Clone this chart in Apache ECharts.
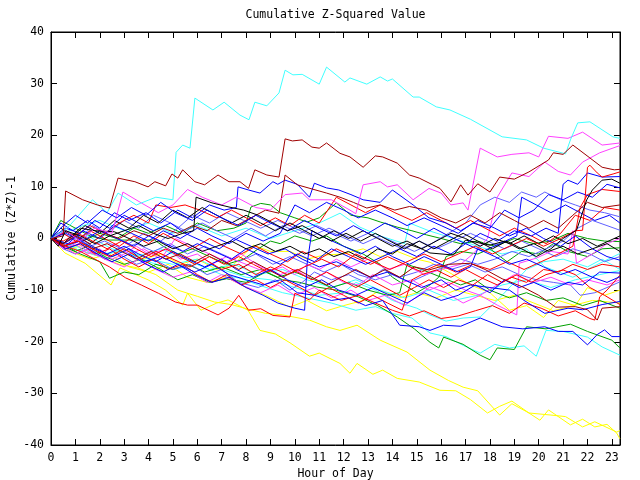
<!DOCTYPE html>
<html>
<head>
<meta charset="utf-8">
<script src="https://cdn.jsdelivr.net/npm/echarts@6/dist/echarts.min.js"></script>
<style>
html,body{margin:0;padding:0;background:#fff;}
#chart{width:640px;height:480px;}
</style>
</head>
<body>
<div id="chart"></div>
<script>
// ---- data: [hour, cumulative value] ----
const xTicks = [0,1,2,3,4,5,6,7,8,9,10,11,12,13,14,15,16,17,18,19,20,21,22,23];
const yTicks = [-40,-30,-20,-10,0,10,20,30,40];

const cyan1 = [[0,0],[0.67,2],[1.7,7.5],[2.3,5],[2.75,8.8],[3.5,6.5],[4.3,8],[5.0,7.5],[5.13,16.7],[5.4,18.1],[5.7,17.5],[5.9,27.2],[6.64,24.9],[7.1,26.4],[7.75,23.9],[8.12,23.0],[8.36,26.4],[8.85,25.7],[9.35,28.2],[9.6,32.6],[9.92,31.7],[10.3,31.8],[11.0,29.9],[11.3,33.2],[12.05,30.3],[12.26,31.1],[12.95,29.9],[13.5,31.3],[13.8,30.5],[14.0,30.9],[14.85,27.4],[15.1,27.4],[15.8,25.5],[16.36,24.9],[17.2,23.1],[18.5,19.7],[19.5,19.1],[20.2,17.5],[21.1,16.4],[21.3,19.1],[21.6,22.4],[22.1,22.6],[23.04,19.7],[23.33,19.4]];
const cyan2 = [[0,0],[1,-1.5],[2,-3],[3,-2.5],[4,-4.5],[5,-6],[6,-5],[7,-7],[7.75,-7.7],[8.5,-9],[9.5,-10.5],[10.5,-11.5],[11.5,-12.5],[12.5,-13.9],[13.3,-13.2],[14,-14.5],[14.8,-15.4],[15.54,-18.3],[16.2,-19],[16.9,-20.7],[17.6,-22.2],[18.2,-20.5],[18.8,-21.2],[19.4,-20.8],[19.9,-22.8],[20.3,-17.8],[21,-18],[22,-19.1],[22.6,-21],[23.33,-22.6]];
const cyan3 = [[0,0],[1,-2],[2,-3.5],[3,-2],[4,-4],[5,-5],[6,-4],[7,-6],[8,-7.5],[9,-8],[10,-9.5],[11,-11],[12,-10.5],[12.5,-8.5],[13.3,-10],[14,-12],[15,-13.5],[15.54,-14.8],[16.2,-16],[16.9,-15.4],[17.6,-15.2],[18.4,-11.5],[19.5,-6],[20.2,-4.5],[21,-4],[22,-5.5],[22.6,-4],[23.33,-6]];
const cyan4 = [[0,0],[1,2],[2,3.5],[3,1.5],[4,3],[5,1],[6,2.5],[7,0.5],[8,2],[9,0],[10,1.5],[11,3],[11.85,4.9],[12.67,2.2],[13.5,0.5],[14.5,-1],[14.7,3],[15.5,1.5],[16.5,0],[17.5,-1.5],[18.5,-3],[19.5,-2],[20.25,-5.5],[21.4,-7.5],[22.2,-5.5],[23.33,-2.9]];
const cyan5 = [[0,0],[0.7,-1.5],[1.5,0.5],[2.5,-2],[3.5,-3.5],[4.5,-2],[5.5,-4],[6.5,-6],[7.5,-5],[8.5,-7],[9.5,-6],[10.5,-8],[11.5,-9.5],[12.5,-8],[13.5,-10],[14.5,-11.5],[15.5,-10],[16.5,-12],[17.5,-11],[18.5,-9],[19.5,-8],[20.5,-9.5],[21.5,-8],[22.5,-7],[23.33,-6.2]];

const mag1 = [[0,0],[0.6,1.5],[1.2,-0.5],[1.8,2],[2.5,1],[2.95,9],[3.7,6.9],[4.4,5],[5,6.5],[5.6,9.5],[6.2,8],[7,6.5],[7.6,8],[8.4,6],[9,5.5],[9.6,8.5],[10.3,8.8],[10.6,7.5],[11.5,7.5],[12.26,5.5],[12.5,4.8],[12.8,10.4],[13.5,11],[13.8,10],[14.2,10.4],[14.85,7.5],[15.5,9.7],[16,8.8],[16.4,6.5],[16.9,6.9],[17.1,5.5],[17.6,17.5],[18.3,15.8],[18.9,16.3],[19.6,16.6],[20,15.8],[20.4,19.8],[21.2,19.4],[21.8,20.6],[22.6,18.1],[23.33,18.5]];
const mag2 = [[0,0],[0.5,-2],[1,-1],[1.5,-3],[2,-2],[2.5,-4],[3,-3],[3.5,-1.5],[4,-3],[4.8,-2],[5.3,-4],[6,-3],[6.6,-5],[7.2,-3.5],[8,-5],[8.8,-6.5],[9.5,-5.5],[10,-7],[10.5,-5],[11,-6],[11.7,-4],[12.3,-5.5],[13,-4],[13.8,-6],[14.5,-5],[15.3,-7],[16,-6],[16.8,-5],[17.3,-3],[17.9,0],[18.3,8],[18.9,12.7],[19.6,12],[20.25,14.8],[20.8,13],[21.3,12.3],[21.8,14.8],[22.5,16.6],[23.33,18]];
const mag3 = [[0,0],[0.5,-1.5],[1,-3],[1.6,-2],[2.2,-4],[3,-5.5],[3.6,-4],[4.3,-6],[5,-7.5],[5.7,-6.5],[6.4,-8.5],[7,-7],[7.8,-9],[8.6,-10.5],[9.3,-9],[10,-11],[10.8,-9.5],[11.5,-11.5],[12.3,-10],[13,-12],[13.7,-11],[14.5,-13],[15.54,-9.4],[16.2,-10.5],[16.9,-12.5],[17.6,-11],[18.3,-12.9],[19.1,-14.8],[19.2,-4.8],[19.9,-3.8],[20.5,-2.5],[21.2,-3],[21.4,1.5],[21.55,-4.8],[22.2,-3],[22.8,-1],[23.33,0]];
const mag4 = [[0,0],[0.4,-1.5],[1,-0.5],[1.5,-2.5],[2,-3.5],[2.6,-1],[3.2,-3],[3.8,-2],[4.5,-4],[5.1,0],[5.8,-1.5],[6.5,-3],[7.2,-4.5],[7.8,-3],[8.6,-5.5],[9.4,-7],[10,-6],[10.7,-8],[11.3,-6.5],[12,-8.5],[12.6,-9],[13.2,-7],[14,-9],[14.8,-8],[15.5,-10],[16.3,-8.5],[17,-10],[17.6,-11],[18.3,-9],[19,-7],[19.8,-8.5],[20.5,-7.5],[21.3,-9],[22,-8],[22.8,-9],[23.33,-8]];

const yel1 = [[0,0],[0.57,-2.8],[1.4,-4.8],[2.46,-9],[2.83,-5.7],[3.98,-8],[4.7,-10],[5.4,-12.9],[5.6,-10.6],[6.15,-13.9],[6.8,-12.5],[7.26,-11.9],[8.08,-13.9],[8.57,-17.8],[9.2,-18.5],[9.8,-20.2],[10.6,-22.8],[11.0,-22.2],[11.85,-24.2],[12.26,-26.1],[12.55,-24.2],[13.2,-26.3],[13.6,-25.5],[14.2,-27.1],[15.1,-27.8],[15.95,-29.4],[16.6,-29.5],[17.2,-31.2],[17.9,-33.8],[18.4,-32.5],[18.9,-31.5],[19.6,-33.8],[20.05,-35.2],[20.4,-33.2],[21.3,-36.1],[21.8,-35],[22.3,-36.5],[22.8,-36],[23.2,-37.7],[23.33,-38.8]];
const yel2 = [[0,0],[1,-2],[2,-3.5],[2.8,-5],[3.56,-5.7],[4.3,-7],[5.2,-10],[6,-11.2],[6.7,-12.3],[7.4,-12.8],[8.1,-13.7],[8.8,-14.5],[9.5,-14.8],[10.6,-15.8],[11.3,-17.1],[11.85,-17.8],[12.55,-16.8],[13.5,-19.7],[14.6,-22],[15.54,-25.5],[16.3,-27.5],[16.9,-28.8],[17.5,-29.5],[18.4,-34.2],[18.9,-32],[19.6,-33.8],[20.5,-34.2],[21.1,-34.5],[21.8,-36.5],[22.3,-35.5],[23.2,-37.5],[23.33,-37.2]];
const yel3 = [[0,0],[0.8,-2],[1.5,-1],[2.3,-3],[3,-2],[3.8,-4],[4.5,-3],[5.3,-5],[6,-4],[6.8,-6],[7.5,-5],[8.3,-1.3],[9,-2.5],[9.8,-2.5],[10.5,-4],[11.2,-3.2],[12,-3],[12.8,-2],[13.5,-3.5],[14.2,-2.5],[15,-4],[15.54,-4.6],[16.3,-6.5],[17.2,-9],[18,-10.5],[18.8,-13.9],[19.5,-13],[20.2,-15.3],[20.8,-12],[21.5,-13],[22,-9.5],[22.7,-11],[23.33,-10]];
const yel4 = [[0,0],[0.8,-2.5],[1.6,-4],[2.4,-3],[3.2,-5.5],[4,-6.5],[4.8,-5],[5.6,-7.5],[6.4,-8.5],[7.2,-7.5],[8,-9.5],[8.8,-11],[9.8,-13.3],[10.5,-12],[11.3,-14],[12,-13],[12.8,-12],[13.5,-10],[14.3,-11.5],[15,-10.5],[15.8,-11.5],[16.6,-10],[17.4,-11],[18.2,-12],[19,-11],[19.8,-12.5],[20.6,-14],[21.4,-13],[22.2,-12],[23.33,-12.5]];

const grn1 = [[0,0],[0.5,-1],[1,-2.5],[1.5,-1.5],[2.2,-3.5],[3,-5],[3.7,-4],[4.5,-6],[5.2,-8],[5.8,-7],[6.5,-8.5],[7.2,-7.8],[8,-8.5],[8.8,-6.5],[9.5,-8],[10.2,-8.5],[10.9,-9.4],[11.7,-10],[12.6,-11.3],[13.4,-13],[14.2,-15.2],[14.9,-17.5],[15.54,-20.1],[15.9,-21.2],[16.1,-19.1],[16.9,-20.5],[17.6,-22.6],[18,-23.5],[18.3,-21.2],[19,-21.5],[19.5,-17.1],[20.3,-17.5],[21.3,-16.6],[22,-18],[23,-19.7],[23.33,-21.2]];
const grn2 = [[0,0],[0.4,3.5],[1,2],[1.6,0.5],[2.3,-0.3],[3,-0.3],[4.25,-0.3],[4.6,-1.5],[5.2,-3],[5.8,-2],[6.5,-3.5],[7.2,-5],[7.9,-4],[8.5,-2],[9,-0.5],[9.4,-1],[10,0.5],[10.7,-0.5],[11.3,0.5],[12,-1.5],[12.8,-3],[13.5,-5],[14,-7.5],[14.5,-9],[15,-10.5],[15.54,-9],[15.9,-7.5],[16.2,-3.5],[16.8,-2.5],[17.5,-3],[18,-2],[18.7,-4.5],[19.3,-2.5],[20,-3],[20.6,-1],[21.2,-2.5],[22,-3.5],[22.6,-2],[23.33,-1.8]];
const grn3 = [[0,0],[0.6,1.5],[1.3,-0.5],[2,1],[2.7,0],[3.4,2],[4,1],[4.7,2.5],[5.4,1],[6,3],[6.8,1.5],[7.5,2],[8,3],[8.2,6.1],[8.6,6.8],[9,6.5],[9.4,5],[10,4],[10.5,3.2],[11,4],[11.7,6.9],[12.3,4.5],[13,4],[13.5,3.2],[14.2,2.2],[14.8,1.5],[15.4,0.7],[16,0],[16.8,-1],[17.5,-0.5],[18.2,-1.5],[19,0],[19.8,-1],[20.5,-0.5],[21.2,1],[22,0],[22.7,-0.5],[23.33,-0.6]];
const grn4 = [[0,0],[0.5,-1.5],[1.2,-3],[2,-4.5],[2.4,-7.7],[3,-6.5],[3.6,-7],[4.3,-5],[5,-6],[5.6,-5],[6.3,-6.5],[7,-5.5],[7.8,-7],[8.6,-6],[9.3,-7.5],[10,-6.5],[10.8,-8],[11.5,-9.5],[12.2,-8.5],[13,-10],[13.8,-11],[14.3,-10.5],[14.6,-5],[15.2,-6],[16,-7.5],[16.8,-9],[17.4,-8],[18,-10],[18.8,-11.5],[19.5,-10.5],[20.3,-12],[21,-11.5],[21.8,-13],[22.5,-12],[23.33,-13.5]];

const blu1 = [[0,0],[0.5,-1.5],[1.2,-0.5],[1.8,-2],[2.5,-3.5],[3.2,-2],[3.8,-4.5],[4.5,-3.5],[5.2,-5],[5.9,-6.5],[6.6,-5],[7.3,-7],[8,-8],[8.7,-9],[9.4,-8],[10.1,-10.5],[10.8,-11],[11.5,-12],[12.2,-11.5],[12.9,-13],[13.6,-12],[14.3,-16.8],[15.1,-17.1],[15.54,-17.8],[16.1,-16.8],[16.8,-17],[17.6,-15.4],[18.5,-17.1],[19.35,-17.5],[20.25,-17.1],[20.8,-18],[21.4,-18],[22,-20.6],[22.4,-18.6],[22.7,-17.7],[23,-19],[23.33,-19]];
const blu2 = [[0,0],[0.6,2],[1.2,1],[1.8,3.5],[2.4,2],[3,4.5],[3.6,3],[4.2,1.5],[4.9,3],[5.5,1],[6.2,-0.5],[6.9,-2],[7.5,0],[8.2,-1.5],[8.9,-3],[9.6,-2],[10.3,-4],[11,-5.5],[11.7,-4.5],[12.4,-6],[13.1,-7.5],[13.8,-6.5],[14.5,-8],[15.2,-9.5],[16,-8],[16.6,-10],[17.2,-9],[18,-9.5],[18.8,-10],[19.4,-12],[20.25,-14.5],[21.2,-13.5],[21.8,-13.8],[22.6,-12.8],[23.33,-12.2]];
const blu3 = [[0,0],[0.5,2.5],[1,4.5],[1.5,3],[2.1,5.5],[2.7,4],[3.3,6],[3.9,4.5],[4.5,7],[5.1,5],[5.8,3.5],[6.4,5.5],[7,4],[7.7,2.5],[8.4,4.5],[9,3],[9.7,1.5],[10.4,3.5],[11,2],[11.7,0.5],[12.4,2.5],[13,1],[13.7,3],[14.4,1.5],[15,0],[15.7,2],[16.3,0.5],[17,-1],[17.6,1],[18.3,-0.5],[19,1.5],[19.7,0.5],[20.3,2],[20.8,1],[21,10.5],[21.2,11.3],[21.6,10.5],[22,12.7],[22.6,11.9],[23.33,12]];
const blu4 = [[0,0],[0.7,-1],[1.3,1.5],[2,0],[2.6,2.5],[3.3,1],[4,-0.5],[4.6,1.5],[5.3,0],[6,2],[6.6,0.5],[7.3,-1],[8,1],[8.7,-0.5],[9.4,1],[10,6.5],[10.6,5],[11.3,7],[12,5.5],[12.6,4],[13.3,5.5],[14,4],[14.6,2.5],[15.3,4],[16,2.5],[16.7,1],[17.3,3],[18,2],[18.6,5.5],[19.2,4],[19.8,5.5],[20.4,8.5],[21,7.5],[21.6,9],[22.2,8],[22.8,10.5],[23.33,9.8]];
const blu5 = [[0,0],[0.4,3],[0.9,1.5],[1.5,3.5],[2,2],[2.6,5],[3.2,3.5],[3.9,5],[4.5,3],[5.2,5.5],[5.8,4],[6.5,6.5],[7.1,5.5],[7.6,6],[7.67,10],[8.1,9.4],[8.57,8.8],[9.1,11],[9.3,10.5],[9.6,11.3],[10.1,10.5],[10.6,8],[10.8,10.7],[11.3,9.8],[11.8,9.4],[12.3,8.5],[12.8,7.5],[13.5,7],[14,9.4],[14.85,6.5],[15.5,4],[16.2,3],[16.8,1.5],[17.5,3.5],[18.2,2],[18.8,0.5],[19.5,2],[20.2,0],[20.9,-1.5],[21.5,0.5],[22.2,-2],[22.8,-3.5],[23.33,-4.2]];
const blu6 = [[0,0],[0.5,-1],[1.1,0.5],[1.7,-1.5],[2.3,-3],[3,-1.5],[3.6,-3],[4.3,-4.5],[5,-2.5],[5.6,-4],[6.3,-5.5],[7,-4],[7.6,-6],[8.3,-7.5],[9,-6],[9.7,-8],[10.4,-9.5],[11.1,-8],[11.8,-10],[12.5,-11],[13.2,-9.5],[13.9,-11],[14.6,-12.5],[15.3,-10.5],[16,-12],[16.7,-11],[17.4,-9],[18,-10.5],[18.6,-8],[19.2,-9.5],[19.8,-8.5],[20.5,-10],[21.2,-8.5],[21.8,-9],[22.5,-6.5],[23.33,-6.7]];
const blu7 = [[0,0],[0.6,-2],[1.2,-1],[1.9,-3],[2.5,-4.5],[3.2,-3],[3.9,-5],[4.6,-6.5],[5.2,-5],[5.9,-7],[6.6,-8.5],[7.3,-7.5],[8,-9.5],[8.7,-11],[9.3,-12.5],[10,-13.5],[10.4,-13.9],[10.5,-5],[10.7,1.5],[11.3,0],[12,-1.5],[12.7,-3],[13.3,-1.5],[14,-3.5],[14.7,-5],[15.3,-3.5],[16,-5],[16.7,-6.5],[17.2,-5.5],[17.5,-2],[18.2,-3.5],[18.8,-5],[19.5,-4],[20.2,-5.5],[20.9,-7],[21.5,-6],[22.2,-7.5],[22.8,-8.5],[23.33,-7.4]];
const blu8 = [[0,0],[0.6,1],[1.3,-0.5],[2,1.5],[2.7,0],[3.4,-1.5],[4,0.5],[4.7,-1],[5.4,-2.5],[6,-1],[6.7,-2.5],[7.4,-4],[8,-2],[8.7,-3.5],[9.4,-5],[10.1,-3],[10.8,-4.5],[11.5,-2],[12.2,-3.5],[12.9,-5],[13.6,-3.5],[14.3,-2],[15,-3.5],[15.7,-1.5],[16.4,-3],[17,-1],[17.7,-2.5],[18.4,-1],[19.1,0.5],[19.3,8],[19.9,6.5],[20.5,5],[21.1,6.5],[21.7,5],[22.3,3.5],[22.9,4.5],[23.33,3]];

const slb1 = [[0,0],[0.5,-2],[1,-3],[1.5,-2],[2.2,-4],[2.8,-3],[3.5,-5],[4.2,-4],[5,-6],[5.7,-5],[6.4,-7],[7,-6],[7.7,-8.5],[8.5,-9.5],[9.2,-8],[9.8,-10],[10.3,-8.5],[10.8,-6.5],[11.5,-8],[12.2,-7],[12.9,-8.5],[13.6,-6],[14.3,-7.5],[15,-6.5],[15.7,-5],[16.4,-6],[17.1,-5],[17.8,-6.5],[18.5,-5.5],[19.2,-7],[19.9,-8],[20.6,-8.5],[21.3,-9],[21.7,-11],[22.3,-10.5],[22.8,-9.5],[23.33,-8.4]];
const slb2 = [[0,0],[0.6,1.5],[1.2,0],[1.8,2],[2.5,0.5],[3.2,-1],[3.8,1],[4.5,-0.5],[5.2,2],[5.8,4.5],[6.5,3],[7.2,5],[7.9,3.5],[8.6,2],[9.3,3.5],[10,2],[10.7,0.5],[11.4,2],[12.1,0.5],[12.8,-1],[13.5,0.5],[14.2,-1],[14.9,-2.5],[15.6,-1],[16.3,1],[17,3],[17.6,6.5],[18.2,8],[18.8,7],[19.3,9],[19.9,8],[20.25,9],[20.9,7.5],[21.5,6.5],[22.1,5.5],[22.7,5],[23.33,4.2]];
const slb3 = [[0,0],[0.5,-1],[1,0.5],[1.6,-1.5],[2.2,-0.5],[2.9,-2],[3.5,-1],[4.2,-2.5],[4.9,-1],[5.6,-3],[6.3,-1.5],[7,-3],[7.7,-4.5],[8.4,-3],[9.1,-5],[9.8,-3.5],[10.5,-5],[11.2,-6.5],[11.9,-5],[12.6,-7],[13.3,-8],[14,-7],[14.7,-8.5],[15.4,-7],[16.1,-5.5],[16.8,-4],[17.5,-5],[18.2,-4],[18.9,-2.5],[19.6,-3.5],[20.3,-2],[21,-0.5],[21.6,2],[22.2,3.5],[22.8,2.5],[23.33,1.6]];
const slb4 = [[0,0],[0.5,1],[1.1,-0.5],[1.7,2.5],[2.3,1],[3,3.5],[3.6,2],[4.2,4.5],[4.9,3],[5.5,1.5],[6.2,3],[6.8,1.5],[7.5,0],[8.2,2],[8.8,0.5],[9.5,2.5],[10.2,1],[10.9,2.5],[11.6,1],[12.3,-0.5],[13,1],[13.7,-0.5],[14.4,-2],[15.1,-0.5],[15.8,-2],[16.5,-0.5],[17.2,1],[17.9,-0.5],[18.6,-2],[19.3,-0.5],[20,-2],[20.7,-3.5],[21.4,-2],[22.1,-3],[22.7,-4.5],[23.33,-3.5]];

const red1 = [[0,0],[0.5,-1.5],[1.1,-0.5],[1.7,-2],[2.4,-3.5],[3,-2],[3.7,-4],[4.3,-2.5],[5,-4],[5.7,-5.5],[6.3,-4],[7,-6],[7.7,-5],[8.4,-7],[9,-5.5],[9.7,-7],[10.4,-5.5],[11.1,-4],[11.8,-5.5],[12.5,-3],[13.2,-4.5],[13.9,-6],[14.6,-4.5],[15.3,-3],[16,-4.5],[16.7,-3],[17.4,-1.5],[18.1,-3],[18.8,-1.5],[19.5,0],[20.2,-1.5],[20.9,0],[21.5,1.5],[21.8,1.6],[22,13.8],[22.1,14.2],[22.4,12.7],[22.6,11.9],[23.05,12.5],[23.33,12.9]];
const red2 = [[0,0],[0.5,1],[1,-0.5],[1.6,1.5],[2.2,0],[2.8,-1.5],[3.4,0.5],[4,-1],[4.6,1],[5.2,-0.5],[5.8,-2],[6.5,0],[7.1,-1.5],[7.8,-3],[8.4,-1.5],[9,-3],[9.7,-4.5],[10.3,-2.5],[11,-4],[11.7,-2],[12.4,-3.5],[13.1,-5],[13.8,-3.5],[14.5,-5],[15.2,-6.5],[15.9,-5],[16.6,-6.5],[17.3,-5],[18,-6],[18.7,-4.5],[19.4,-6],[20.1,-4.5],[20.8,-3],[21.4,-1.5],[21.7,6],[22,8.5],[22.6,9.5],[23.33,9.1]];
const red3 = [[0,0],[0.6,-1.5],[1.2,-2.5],[1.8,-4],[2.4,-5.5],[3.05,-7.6],[3.7,-9],[4.4,-10.6],[5.1,-12.3],[5.6,-12.9],[6,-12.9],[6.85,-14.8],[7.3,-13.5],[7.7,-11],[8.1,-13.9],[8.6,-13.6],[9.1,-14.9],[9.8,-15.2],[10,-10.6],[10.6,-11.9],[11,-10],[11.9,-12],[12.6,-11],[13.3,-12.5],[14,-13.9],[14.7,-15],[15.3,-14],[16,-15.5],[16.7,-15],[17.4,-14],[18.1,-13],[18.8,-14.5],[19.4,-12.5],[20.1,-13.5],[20.8,-15],[21.5,-14],[22.1,-15.5],[22.3,-15.8],[22.5,-11.3],[22.8,-10],[23.33,-7.1]];
const red4 = [[0,0],[0.5,1.5],[1,0.5],[1.6,2.5],[2.2,1],[2.8,3],[3.4,4.5],[4,3],[4.3,6.5],[4.9,6],[5.5,6.5],[6.1,5.5],[6.8,4],[7.4,5.5],[8,4],[8.6,2.5],[9.2,4],[9.8,2.5],[10.4,4.5],[11,3],[11.7,8],[12.3,6.5],[12.9,5],[13.5,6.5],[14.1,5],[14.8,3.5],[15.4,5],[16,3.5],[16.6,2],[17.2,3.5],[17.8,2],[18.4,0.5],[19,2],[19.7,0.5],[20.3,-1],[20.9,1],[21.5,4.5],[22.1,3.5],[22.7,6],[23.33,5.5]];
const red5 = [[0,0],[0.6,-2],[1.2,-1],[1.8,-3],[2.4,-2],[3,-4],[3.6,-5.5],[4.2,-4],[4.8,-6],[5.4,-5],[6,-7],[6.6,-8.5],[7.2,-7],[7.8,-9],[8.4,-8],[9,-9.5],[9.6,-8],[10.2,-9.5],[10.8,-11],[11.4,-9.5],[12,-11],[12.6,-12.5],[13.2,-11],[13.8,-12.5],[14.4,-13.9],[14.8,-8],[15.2,-7],[15.8,-6.1],[16.4,-7.5],[17,-6],[17.6,-7.5],[18.3,-9],[18.9,-7.5],[19.5,-8.5],[20.2,-6],[20.8,-6.5],[21.4,-5],[22,-6],[22.6,-5],[23.33,-5.5]];
const red6 = [[0,0],[0.5,-0.5],[1.1,1],[1.7,-0.5],[2.3,-2],[2.9,-0.5],[3.5,-2],[4.1,-3.5],[4.7,-2],[5.3,-3.5],[5.9,-5],[6.5,-3.5],[7.1,-5],[7.7,-3.5],[8.3,-5],[8.9,-6.5],[9.5,-5],[10.1,-6.5],[10.7,-8],[11.3,-6.5],[11.9,-8],[12.5,-9.5],[13.1,-8],[13.7,-9.5],[14.3,-11],[14.9,-9.5],[15.5,-8],[16.1,-9.5],[16.7,-8],[17.3,-9],[17.9,-7],[18.5,-8.5],[19.1,-7],[19.7,-8.5],[20.3,-7],[21,-6.1],[21.5,-7],[22.1,-9.5],[22.7,-11],[23.33,-12.8]];

const blk1 = [[0,0],[0.3,-1.5],[0.6,1.5],[1.2,0.5],[1.8,-1],[2.4,0.5],[3,1.5],[3.6,2.5],[4.2,1],[4.8,0],[5.4,1],[5.85,1.5],[5.95,8],[6.6,6.9],[7.3,6.1],[7.9,5.5],[8.5,4.5],[9.1,3],[9.7,1.5],[10.3,2.5],[10.9,1],[11.5,-0.5],[12.1,1],[12.7,-0.5],[13.3,1],[13.9,-0.5],[14.5,-2],[15.1,-0.5],[15.7,-2],[16.3,-0.5],[16.9,1],[17.5,-0.5],[18.1,-2],[18.7,-0.5],[19.3,-2],[19.9,-3.5],[20.5,-2],[21,0],[21.55,1.6],[21.97,7.5],[22.2,9.4],[22.6,11.3],[23.0,11.5],[23.33,10.7]];
const blk2 = [[0,0],[0.4,2],[0.9,0.5],[1.4,2.5],[2,1],[2.6,3.5],[3.2,2],[3.8,4.5],[4.4,3],[5,5.5],[5.6,4],[6.2,6],[6.8,4.5],[7.4,3],[8,4.5],[8.6,3],[9.2,1.5],[9.8,3],[10.4,1.5],[11,0],[11.6,1.5],[12.2,0],[12.8,1.5],[13.4,0],[14,-1.5],[14.6,-0.5],[15.2,-2],[15.54,-2.8],[16.5,-3.2],[17,-0.3],[17.4,-0.7],[18,-1.3],[18.6,-0.5],[19.2,-2],[19.8,-1],[20.4,-2.5],[21,-1.5],[21.6,-3],[22.2,-2],[22.8,-1],[23.33,-2.5]];
const blk3 = [[0,0],[0.5,-1],[1.2,2],[1.8,1.5],[2.6,1.3],[3.2,0],[3.8,-1.5],[4.4,-0.5],[5,-2],[5.6,-1],[6.2,-2.5],[6.8,-1.5],[7.4,-0.5],[8,-2],[8.6,-1],[9.2,-2.5],[9.8,-1.5],[10.4,-3],[11,-2],[11.6,-3.5],[12.2,-2.5],[12.8,-4],[13.4,-2],[14,-3],[14.6,-1],[15.2,-2],[15.8,-0.5],[16.4,1],[17,0],[17.6,-1.5],[18.2,0],[18.8,-1],[19.4,0.5],[20,-1],[20.6,0.5],[21.2,-1],[21.8,0],[22.4,-1.5],[23.33,0.5]];

const dkr1 = [[0,0],[0.5,0.5],[0.6,9.2],[1.3,7.5],[1.9,6.5],[2.4,5.9],[2.75,11.7],[3.44,11.0],[3.98,10.0],[4.26,11],[4.7,10.2],[4.96,12.5],[5.2,11.7],[5.4,13.3],[5.9,11],[6.3,10.4],[6.85,12.3],[7.3,11],[7.75,11],[8.1,9.7],[8.36,13.3],[8.85,12.3],[9.35,11.9],[9.6,19.3],[9.9,18.9],[10.3,19.1],[10.7,17.7],[11.0,17.5],[11.3,18.5],[11.85,16.5],[12.26,15.8],[12.8,13.8],[13.3,16.0],[13.6,15.8],[14.2,14.6],[14.7,12.3],[15.1,11.7],[15.65,10.4],[15.95,9.7],[16.4,7.1],[16.8,10.4],[17.1,8.4],[17.5,10.6],[18,9],[18.4,11.9],[19,11.5],[19.6,12.9],[20.4,15.2],[20.6,16.6],[21,16.3],[21.4,18.1],[22.1,15.6],[22.6,13.8],[23.1,13.3],[23.33,13.4]];
const dkr2 = [[0,0],[0.5,-1],[1,0.5],[1.6,-1],[2.2,1],[2.8,0],[3.4,1.5],[4,0.5],[4.6,2],[5.2,1],[5.8,2.5],[6.4,1.5],[7,3.5],[7.6,2.5],[8.2,4],[8.8,5.5],[9.35,4.9],[9.6,12.3],[10.1,10.4],[10.7,9.6],[11.3,8.8],[11.85,8],[12.4,7],[12.95,5.9],[13.5,6.5],[14.1,5.5],[14.7,6.2],[15.4,5.5],[16,4],[16.6,3],[17.2,4.5],[17.8,3],[18.4,5],[19,3.5],[19.6,2],[20.2,3.5],[20.8,2],[21.4,4.5],[22,7],[22.6,6],[23.33,6.5]];
const dkr3 = [[0,0],[0.5,-1.5],[1.1,-0.5],[1.7,-2],[2.3,-1],[2.9,-2.5],[3.5,-4],[4.1,-2.5],[4.7,-4],[5.3,-3],[5.9,-4.5],[6.5,-3],[7.1,-4.5],[7.7,-6],[8.3,-4.5],[8.9,-6],[9.5,-7.5],[10.1,-6],[10.7,-7.5],[11.3,-9],[11.9,-7.5],[12.5,-6],[13.1,-7.5],[13.7,-6],[14.3,-7.5],[14.9,-5.5],[15.5,-6.1],[16.3,-5],[17.2,-4.8],[17.8,-6],[18.5,-7.8],[19.35,-9.4],[20,-11],[20.7,-13.3],[21.5,-13.2],[22,-13.8],[22.4,-15.8],[22.6,-13.5],[23.33,-13.2]];

// ---- styles (kept apart from data) ----
const COL = {
  red:'#ff0000', grn:'#00a000', blu:'#0000ff', mag:'#ff40ff', cyn:'#40ffff',
  dkr:'#a00000', yel:'#ffff00', blk:'#000000', slb:'#6060ff'
};
const seriesList = [
  [yel1,'yel'],[yel2,'yel'],[yel3,'yel'],[yel4,'yel'],
  [cyan2,'cyn'],[cyan3,'cyn'],[cyan4,'cyn'],[cyan5,'cyn'],
  [grn1,'grn'],[grn2,'grn'],[grn3,'grn'],[grn4,'grn'],
  [slb1,'slb'],[slb2,'slb'],[slb3,'slb'],[slb4,'slb'],
  [mag2,'mag'],[mag3,'mag'],[mag4,'mag'],
  [red2,'red'],[red3,'red'],[red4,'red'],[red5,'red'],[red6,'red'],
  [blu1,'blu'],[blu2,'blu'],[blu4,'blu'],[blu5,'blu'],[blu6,'blu'],[blu7,'blu'],[blu8,'blu'],
  [blk2,'blk'],[blk3,'blk'],
  [dkr2,'dkr'],[dkr3,'dkr'],
  [mag1,'mag'],[cyan1,'cyn'],[dkr1,'dkr'],[blu3,'blu'],[red1,'red'],[blk1,'blk']
];

const FONT = '"DejaVu Sans Mono", "Liberation Mono", monospace';
const PLOT = {left:51, right:620, top:32, bottom:445};
const chart = echarts.init(document.getElementById('chart'), null, {renderer:'canvas'});
const axisCommon = {
  axisLine:{show:true, onZero:false, lineStyle:{color:'#000', width:1}},
  axisTick:{show:true, inside:true, length:6, lineStyle:{color:'#000', width:1}},
  splitLine:{show:false}
};
const X_MAX = 23.3333;
chart.setOption({
  animation:false,
  backgroundColor:'#fff',
  graphic:[{
    type:'text', x:(PLOT.left+PLOT.right)/2, y:15,
    style:{text:'Cumulative Z-Squared Value', fontFamily:FONT, fontSize:11.5,
      fill:'#000', textAlign:'center', textVerticalAlign:'middle'}
  }],
  grid:{left:PLOT.left, right:640-PLOT.right, top:PLOT.top, bottom:480-PLOT.bottom,
    containLabel:false, outerBoundsMode:'none',
    show:true, borderColor:'#000', borderWidth:1, backgroundColor:'transparent'},
  xAxis:[
    Object.assign({type:'value', position:'bottom', min:0, max:X_MAX, interval:1,
      name:'Hour of Day', nameLocation:'middle', nameGap:23, nameMoveOverlap:false,
      nameTextStyle:{fontFamily:FONT, fontSize:11.5, color:'#000'},
      axisLabel:{fontFamily:FONT, fontSize:11.5, color:'#000', margin:7,
        showMaxLabel:false,
        formatter:v => (xTicks.indexOf(Math.round(v)) >= 0 && Math.abs(v-Math.round(v))<1e-6) ? String(Math.round(v)) : ''}
    }, axisCommon),
    Object.assign({type:'value', position:'top', min:0, max:X_MAX, interval:1,
      axisLabel:{show:false}}, axisCommon)
  ],
  yAxis:[
    Object.assign({type:'value', position:'left', min:yTicks[0], max:yTicks[yTicks.length-1], interval:10,
      name:'Cumulative (Z*Z)-1', nameLocation:'middle', nameGap:33, nameRotate:90, nameMoveOverlap:false,
      nameTextStyle:{fontFamily:FONT, fontSize:11.5, color:'#000'},
      axisLabel:{fontFamily:FONT, fontSize:11.5, color:'#000', margin:7}
    }, axisCommon),
    Object.assign({type:'value', position:'right', min:-40, max:40, interval:10,
      axisLabel:{show:false}}, axisCommon)
  ],
  series: seriesList.map(([d,c]) => ({
    type:'line', data:d, xAxisIndex:0, yAxisIndex:0,
    showSymbol:false, symbol:'none', silent:true, clip:true,
    lineStyle:{color:COL[c], width:1}, emphasis:{disabled:true}
  }))
});
</script>
</body>
</html>
